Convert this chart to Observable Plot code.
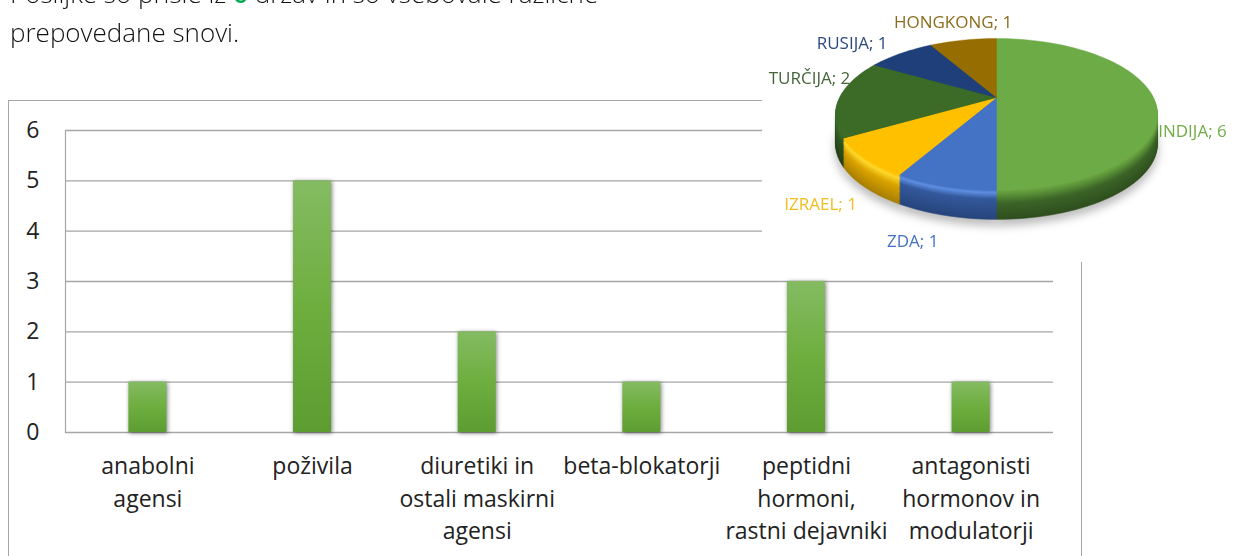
<!DOCTYPE html>
<html><head><meta charset="utf-8">
<script src="https://cdn.jsdelivr.net/npm/d3@7"></script>
<script src="https://cdn.jsdelivr.net/npm/@observablehq/plot@0.6"></script>
<style>
html,body{margin:0;padding:0;background:#fff;overflow:hidden;width:1236px;height:556px}
#stage{position:relative;width:1236px;height:556px;overflow:hidden;font-family:"Open Sans",sans-serif}
#frame{position:absolute;left:8px;top:100px;width:1074px;height:500px;border:1px solid #a6a6a6;box-sizing:border-box}
.para{position:absolute;left:10px;font-size:26px;font-weight:300;color:#111;white-space:nowrap;line-height:30px;opacity:.99}
#main{position:absolute;left:0;top:0}
#pie{position:absolute;left:762px;top:0;background:#fff}
#main svg,#pie svg{display:block;background:transparent}
</style></head><body>
<div id="stage">
  <div class="para" style="top:-22px">Pošiljke so prišle iz <span style="color:#00a651;font-weight:600">6</span> držav in so vsebovale različne</div>
  <div class="para" style="top:17px">prepovedane snovi.</div>
  <div id="frame"></div>
  <div id="main"></div>
  <div id="pie"></div>
</div>
<script>
const categories = ["anabolni\nagensi","poživila","diuretiki in\nostali maskirni\nagensi","beta-blokatorji","peptidni\nhormoni,\nrastni dejavniki","antagonisti\nhormonov in\nmodulatorji"];
const barValues = [1,5,2,1,3,1];
const pieNames = ["INDIJA","ZDA","IZRAEL","TURČIJA","RUSIJA","HONGKONG"];
const pieValues = [6,1,1,2,1,1];

const barData = categories.map((c,i)=>({c,v:barValues[i]}));
const ink = "#222";
const barDefs = () => {
  const s = d3.create("svg:defs");
  const g = s.append("linearGradient").attr("id","barG").attr("x1",0).attr("x2",0).attr("y1",0).attr("y2",1);
  [[0,"#84bb62"],[.5,"#6eae3f"],[1,"#5d9c31"]].forEach(([o,c])=>g.append("stop").attr("offset",o).attr("stop-color",c));
  return s.node();
};
const main = Plot.plot({
  width:1236,height:556,marginTop:130,marginBottom:124,marginLeft:65,marginRight:183,
  style:{background:"transparent",fontFamily:"'Open Sans',sans-serif"},
  x:{domain:categories,paddingInner:0.769,paddingOuter:0.385,align:0.5,round:false,label:null},
  y:{domain:[0,6],label:null},
  marks:[
    barDefs,
    Plot.gridY([0,1,2,3,4,5,6],{stroke:"#a6a6a6",strokeOpacity:1,strokeWidth:1.4}),
    Plot.frame({anchor:"left",stroke:"#a6a6a6",strokeWidth:1.2}),
    Plot.barY(barData,{x:"c",y:"v",fill:"url(#barG)",imageFilter:"drop-shadow(1px 1px 2px rgba(0,0,0,.5))"}),
    Plot.axisY({ticks:[0,1,2,3,4,5,6],tickSize:0,tickPadding:26,fontSize:23,color:ink,label:null,tickFormat:d=>String(d)}),
    Plot.axisX({tickSize:0,tickPadding:18.5,fontSize:23,color:ink,label:null,lineHeight:1.413,lineAnchor:"top"})
  ]
});
document.getElementById("main").append(main);

// pie: perspective-projected disc; angles come only from pieValues
const total = d3.sum(pieValues);
const K = 0.2236, DEPTH = 0.40;
const proj = (deg,r=1) => {
  const a = deg*Math.PI/180, u=r*Math.sin(a), v=r*Math.cos(a), w=1+K*v;
  return {px:u/w, py:v/w};
};
let acc = 0;
const slices = pieNames.map((n,i)=>{
  const a0 = acc/total*360; acc += pieValues[i]; const a1 = acc/total*360;
  return {n,v:pieValues[i],a0,a1,mid:(a0+a1)/2};
});
const outline = (s,d) => {
  const pts=[proj(0,0)];
  const N=Math.max(8,Math.round((s.a1-s.a0)/2));
  for(let j=0;j<=N;j++) pts.push(proj(s.a0+(s.a1-s.a0)*j/N));
  pts.push(proj(0,0));
  return pts.map(p=>({px:p.px,py:p.py-d}));
};
const palettes = {
  INDIJA:[[0,"#6da844"],[.2,"#578c36"],[.45,"#3c6428"],[1,"#2f4f1e"]],
  ZDA:[[0,"#4472c4"],[.08,"#5f90e4"],[.3,"#34599c"],[1,"#27457c"]],
  IZRAEL:[[0,"#ffc000"],[.12,"#ffd82c"],[.4,"#dba400"],[1,"#a97f00"]],
  "TURČIJA":[[0,"#3e6b28"],[.3,"#2f5520"],[1,"#263f17"]],
  RUSIJA:[[0,"#1f3f78"],[1,"#152a52"]],
  HONGKONG:[[0,"#966c00"],[1,"#6b4e00"]]
};
const topFill = {INDIJA:"#6dab46",ZDA:"#4472c4",IZRAEL:"#ffc000","TURČIJA":"#3c6a27",RUSIJA:"#1e3f79",HONGKONG:"#966d00"};
const pal = (n,t) => {
  const st=palettes[n]; let k=0; while(k<st.length-2 && t>st[k+1][0]) k++;
  return d3.interpolateRgb(st[k][1],st[k+1][1])((t-st[k][0])/(st[k+1][0]-st[k][0]));
};
const L=24, pieMarks=[];
slices.forEach(s=>pieMarks.push(Plot.line(outline(s,DEPTH*1.2),{x:"px",y:"py",fill:"#bdbdbd",stroke:"#bdbdbd",imageFilter:"blur(4px)"})));
for(let l=L;l>=1;l--){
  const t=l/L;
  slices.forEach(s=>pieMarks.push(Plot.line(outline(s,DEPTH*t),{x:"px",y:"py",fill:pal(s.n,t),stroke:pal(s.n,t),strokeWidth:.6})));
}
slices.forEach(s=>pieMarks.push(Plot.line(outline(s,0),{x:"px",y:"py",fill:topFill[s.n],stroke:topFill[s.n],strokeWidth:.4})));

const labelColor = {INDIJA:"#70ad47",ZDA:"#4472c4",IZRAEL:"#f2bd1d","TURČIJA":"#44663a",RUSIJA:"#2a4a80",HONGKONG:"#8c6d1f"};
const labelShift = {INDIJA:[39,34],ZDA:[-32,55],IZRAEL:[-44,46],"TURČIJA":[-30,-19],RUSIJA:[-48.5,-10],HONGKONG:[-10,-18]};
slices.forEach(s=>{
  const p=proj(s.mid);
  pieMarks.push(Plot.text([{...p,label:`${s.n}; ${s.v}`}],{x:"px",y:"py",text:"label",fill:labelColor[s.n],fontSize:17,dx:labelShift[s.n][0],dy:labelShift[s.n][1],textAnchor:"middle",imageFilter:"blur(.35px)"}));
});
const cx=996-762, cy=97, Rx=157, Ry=72.2;
const pie = Plot.plot({
  width:474,height:262,margin:0,axis:null,
  style:{background:"#fff",fontFamily:"'Open Sans',sans-serif",overflow:"visible"},
  x:{type:"linear",domain:[-1,1],range:[cx-Rx,cx+Rx],axis:null},
  y:{type:"linear",domain:[-1,1],range:[cy+Ry,cy-Ry],axis:null},
  marks:pieMarks
});
document.getElementById("pie").append(pie);
</script>
</body></html>
